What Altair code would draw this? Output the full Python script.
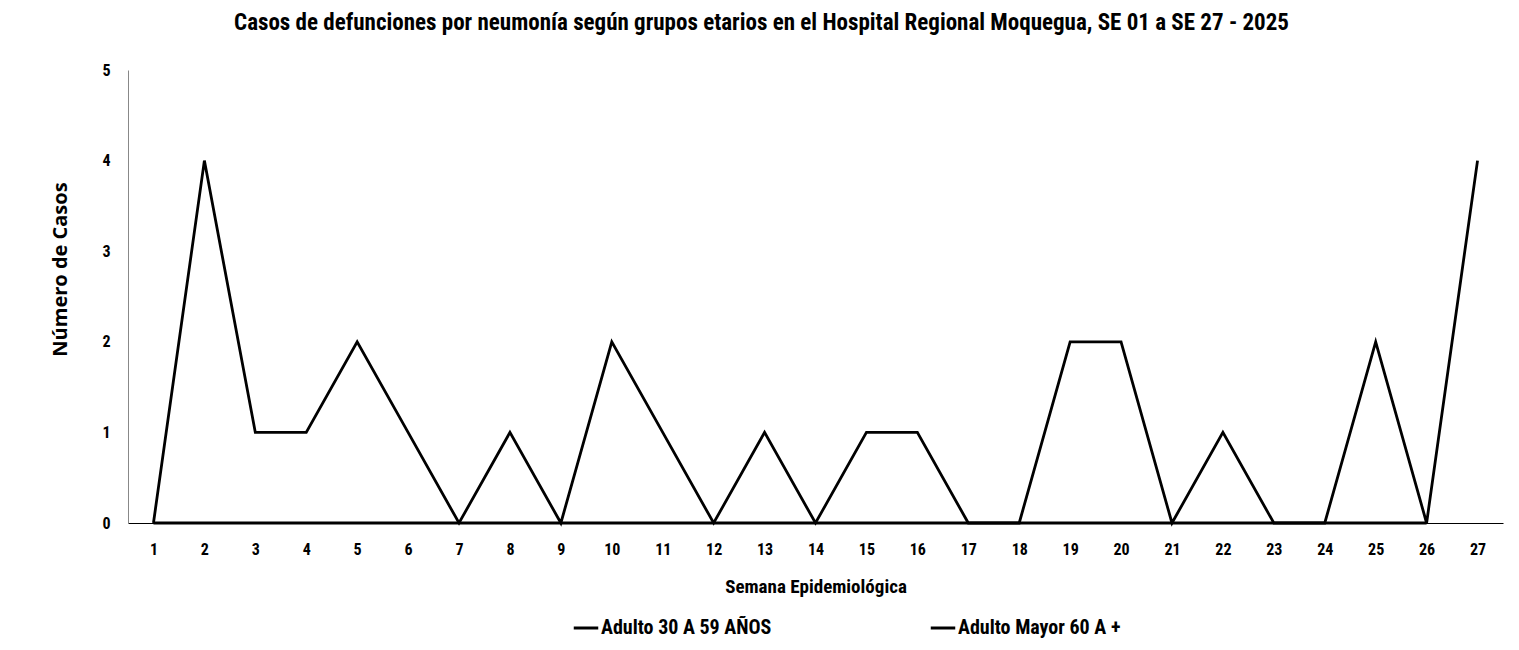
import altair as alt
import pandas as pd

weeks = list(range(1, 28))
series_names = ["Adulto 30 A 59 AÑOS", "Adulto Mayor 60 A +"]
adulto_30_59 = [0] * 26  # weeks 1-26
adulto_mayor_60 = [0, 4, 1, 1, 2, 1, 0, 1, 0, 2, 1, 0, 1, 0, 1, 1, 0, 0, 2, 2, 0, 1, 0, 0, 2, 0, 4]

rows = []
for w, v in zip(weeks, adulto_30_59):
    rows.append({"semana": str(w), "serie": series_names[0], "casos": v})
for w, v in zip(weeks, adulto_mayor_60):
    rows.append({"semana": str(w), "serie": series_names[1], "casos": v})
df = pd.DataFrame(rows)

FONT = "Liberation Sans Narrow, Roboto Condensed, Arial Narrow, sans-serif"

chart = alt.Chart(df).mark_line(strokeWidth=2.8, color="black").encode(
    x=alt.X("semana:O", sort=[str(w) for w in weeks],
            scale=alt.Scale(type="point", padding=0.5),
            axis=alt.Axis(title="Semana Epidemiológica", labelAngle=0, ticks=False,
                          labelFont=FONT, labelFontSize=16, labelFontWeight="bold",
                          labelColor="black", labelPadding=18,
                          titleFont=FONT, titleFontSize=19, titleFontWeight="bold",
                          titleColor="black", titlePadding=20,
                          domainColor="black", domainWidth=1)),
    y=alt.Y("casos:Q", scale=alt.Scale(domain=[0, 5]),
            axis=alt.Axis(title="Número de Casos", values=[0, 1, 2, 3, 4, 5], grid=False,
                          ticks=False, labelFont=FONT, labelFontSize=16,
                          labelFontWeight="bold", labelColor="black", labelPadding=18,
                          titleFont="Open Sans", titleFontSize=20, titleFontWeight="bold",
                          titleColor="black", titleX=-68, titleY=199,
                          titleBaseline="middle",
                          domainColor="#888888", domainWidth=1)),
    color=alt.Color("serie:N", scale=alt.Scale(domain=series_names, range=["black", "black"]),
                    legend=alt.Legend(title=None, orient="none", legendX=444, legendY=544,
                                      direction="horizontal", symbolType="stroke",
                                      symbolStrokeWidth=3, symbolSize=600,
                                      labelFont=FONT, labelFontSize=20, labelFontWeight="bold",
                                      labelColor="black", columnPadding=152, labelOffset=1,
                                      labelLimit=400)),
    detail="serie:N",
).properties(
    width=1375, height=453,
    background="white",
    title=alt.TitleParams(
        "Casos de defunciones por neumonía según grupos etarios en el Hospital Regional Moquegua, SE 01 a SE 27 - 2025",
        font=FONT, fontSize=23, fontWeight="bold", color="black", anchor="middle", dx=-54, offset=27),
    padding={"left": 120, "top": 62, "right": 8, "bottom": 119},
    autosize=alt.AutoSizeParams(type="none"),
).configure_view(strokeWidth=0)

chart.save("out.html", embed_options={"renderer": "svg", "actions": False})
